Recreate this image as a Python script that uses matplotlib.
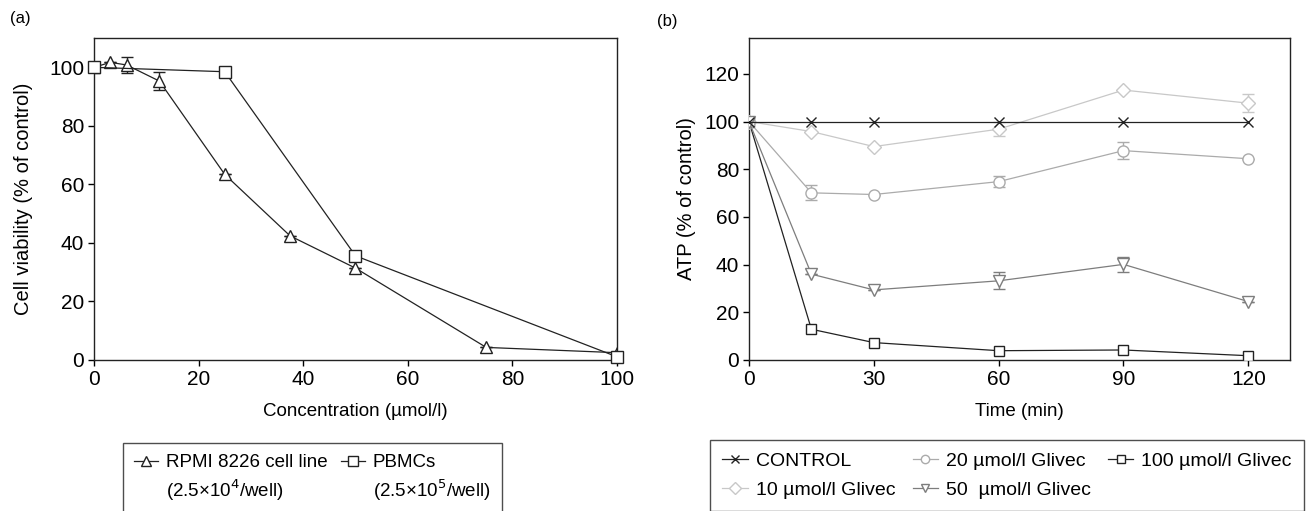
import matplotlib
matplotlib.use("Agg")
import matplotlib.pyplot as plt
from matplotlib.lines import Line2D

plt.rcParams['font.family'] = ['Liberation Sans', 'DejaVu Sans']
plt.rcParams['font.size'] = 13
plt.rcParams['axes.linewidth'] = 1.0
plt.rcParams['xtick.major.size'] = 4
plt.rcParams['ytick.major.size'] = 4

# (a) cell viability vs concentration
conc_rpmi = [0, 3.125, 6.25, 12.5, 25, 37.5, 50, 75, 100]
viab_rpmi = [100, 101.7, 100.8, 95.3, 63.4, 42.4, 31.4, 4.3, 2.5]
err_rpmi = [0, 0, 2.7, 3.0, 0, 0, 0, 0, 0]
conc_pbmc = [0, 25, 50, 100]
viab_pbmc = [100, 98.5, 35.6, 1.1]

# (b) ATP vs time
time_min = [0, 15, 30, 60, 90, 120]
atp_control = [100, 100, 100, 100, 100, 100]
atp_10 = [100, 95.8, 89.5, 96.8, 113.2, 107.7]
err_10 = [0, 0, 0, 2.8, 0, 3.8]
atp_20 = [100, 70.1, 69.4, 74.8, 87.8, 84.4]
err_20 = [0, 3.2, 0, 2.4, 3.5, 0]
atp_50 = [100, 36.0, 29.4, 33.2, 40.1, 24.5]
err_50 = [0, 0, 0, 3.5, 3.0, 0]
atp_100 = [100, 12.9, 7.3, 3.9, 4.2, 1.8]

fig = plt.figure(figsize=(13.06, 5.11), dpi=100)
ax1 = fig.add_axes([0.072, 0.2955, 0.4004, 0.630])
ax2 = fig.add_axes([0.5735, 0.2955, 0.4142, 0.630])

lw = 0.9
ax1.errorbar(conc_rpmi, viab_rpmi, yerr=err_rpmi, color='#222222', lw=lw,
             marker='^', ms=8, mfc='white', mec='#222222', mew=1.0,
             capsize=4, elinewidth=1.0, capthick=1.0, zorder=2)
ax1.plot(conc_pbmc, viab_pbmc, color='#222222', lw=lw, marker='s', ms=8,
         mfc='white', mec='#222222', mew=1.0, zorder=3, clip_on=False)
ax1.set_xlim(0, 100)
ax1.set_ylim(0, 110)
ax1.set_xticks([0, 20, 40, 60, 80, 100])
ax1.set_yticks([0, 20, 40, 60, 80, 100])
ax1.set_xlabel('Concentration (µmol/l)', fontsize=13.5, labelpad=10)
ax1.set_ylabel('Cell viability (% of control)', fontsize=14.5, labelpad=12)

series = [
    (atp_10, err_10, '#c8c8c8', 'D', 7),
    (atp_20, err_20, '#ababab', 'o', 8),
    (atp_50, err_50, '#7d7d7d', 'v', 8),
]
ax2.plot(time_min, atp_control, color='#222222', lw=lw, marker='x', ms=7,
         mew=1.0, zorder=4)
for vals, errs, col, mk, ms in series:
    ax2.errorbar(time_min, vals, yerr=errs, color=col, lw=lw, marker=mk, ms=ms,
                 mfc='white', mec=col, mew=1.0, capsize=4, elinewidth=1.0,
                 capthick=1.0, zorder=3)
ax2.plot(time_min, atp_100, color='#222222', lw=lw, marker='s', ms=7,
         mfc='white', mec='#222222', mew=1.0, zorder=3)
ax2.set_xlim(0, 130)
ax2.set_ylim(0, 135)
ax2.set_xticks([0, 30, 60, 90, 120])
ax2.set_yticks([0, 20, 40, 60, 80, 100, 120])
ax2.set_xlabel('Time (min)', fontsize=13.5, labelpad=10)
ax2.set_ylabel('ATP (% of control)', fontsize=14.5, labelpad=6)

for ax in (ax1, ax2):
    ax.tick_params(direction='out', top=False, right=False, width=1.0, pad=3,
                   labelsize=15)
    for s in ax.spines.values():
        s.set_color('#222222')

fig.text(0.008, 0.955, '(a)', fontsize=12)
fig.text(0.503, 0.950, '(b)', fontsize=12)

# legend (a)
blank = Line2D([], [], color='none')
h_tri = Line2D([], [], color='#222222', lw=lw, marker='^', ms=7, mfc='white', mec='#222222')
h_sq = Line2D([], [], color='#222222', lw=lw, marker='s', ms=7, mfc='white', mec='#222222')
leg1 = fig.legend([h_tri, blank, h_sq, blank],
                  ['RPMI 8226 cell line', '(2.5×10$^4$/well)', 'PBMCs', '(2.5×10$^5$/well)'],
                  ncol=2, loc='upper left', bbox_to_anchor=(0.094, 0.133), borderaxespad=0,
                  frameon=True, fancybox=False, edgecolor='#222222', handlelength=1.3,
                  handletextpad=0.4, columnspacing=0.7, labelspacing=0.35, borderpad=0.6,
                  fontsize=13.5)
leg1.get_frame().set_linewidth(1.0)

# legend (b)
hb = [
    Line2D([], [], color='#222222', lw=lw, marker='x', ms=6),
    Line2D([], [], color='#c8c8c8', lw=lw, marker='D', ms=6, mfc='white', mec='#c8c8c8'),
    Line2D([], [], color='#ababab', lw=lw, marker='o', ms=6, mfc='white', mec='#ababab'),
    Line2D([], [], color='#7d7d7d', lw=lw, marker='v', ms=6, mfc='white', mec='#7d7d7d'),
    Line2D([], [], color='#222222', lw=lw, marker='s', ms=6, mfc='white', mec='#222222'),
]
lb = ['CONTROL', '10 µmol/l Glivec', '20 µmol/l Glivec', '50  µmol/l Glivec', '100 µmol/l Glivec']
leg2 = fig.legend(hb, lb, ncol=3, loc='upper left', bbox_to_anchor=(0.5435, 0.139),
                  borderaxespad=0, frameon=True, fancybox=False, edgecolor='#222222',
                  handlelength=1.3, handletextpad=0.4, columnspacing=0.9,
                  labelspacing=0.55, borderpad=0.65, fontsize=14)
leg2.get_frame().set_linewidth(1.0)

fig.savefig('out.png', dpi=100)
